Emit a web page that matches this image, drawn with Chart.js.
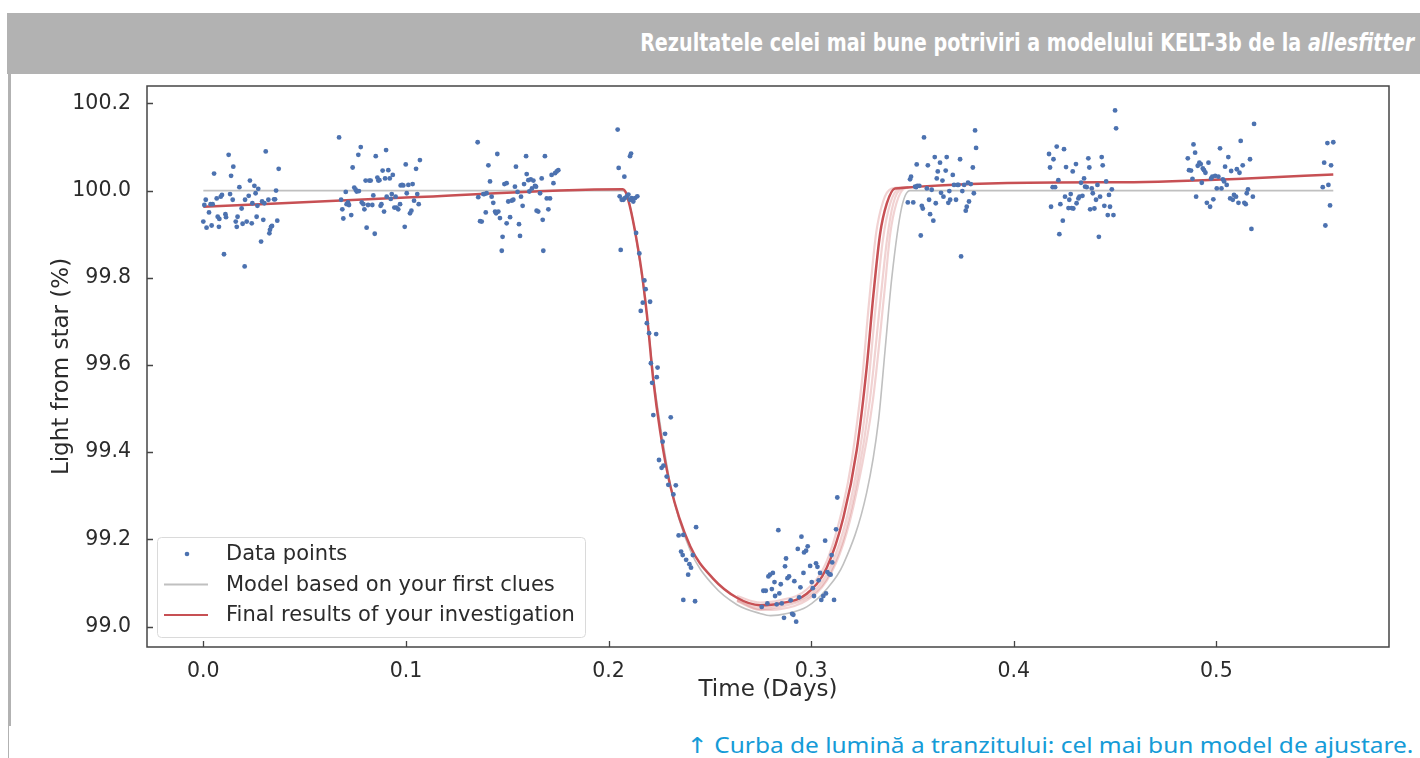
<!DOCTYPE html>
<html>
<head>
<meta charset="utf-8">
<script src="https://cdn.jsdelivr.net/npm/chart.js@4.4.0/dist/chart.umd.js"></script>
<style>
html, body { margin: 0; padding: 0; background: #fff; }
body { width: 1420px; height: 758px; position: relative; overflow: hidden; }
#header { position: absolute; left: 7px; top: 13px; width: 1413px; height: 61px; background: #b2b2b2; }
#headerText { position: absolute; right: 6px; top: 17px; font: bold 25px "Liberation Sans Narrow", "DejaVu Sans Condensed", sans-serif; line-height: 25px; color: #fff; white-space: nowrap; transform-origin: right center; }
#leftBar { position: absolute; left: 8px; top: 74px; width: 3px; height: 652px; background: #b2b2b2; }
#leftLine { position: absolute; left: 8px; top: 726px; width: 1px; height: 32px; background: #b2b2b2; }
#chartBox { position: absolute; left: 0; top: 75px; width: 1420px; height: 650px; }
#caption { position: absolute; right: 7px; top: 735px; font: 21px "Noto Sans", sans-serif; line-height: 21px; color: #159bd7; white-space: nowrap; transform-origin: right center; }
#caption .arrow { font-family: "DejaVu Sans", sans-serif; font-size: 22px; }
</style>
</head>
<body>
<div id="header"><span id="headerText">Rezultatele celei mai bune potriviri a modelului KELT-3b de la <i>allesfitter</i></span></div>
<div id="leftBar"></div>
<div id="leftLine"></div>
<div id="chartBox"><canvas id="lightCurve"></canvas></div>
<div id="caption"><span class="arrow">↑</span> Curba de lumină a tranzitului: cel mai bun model de ajustare.</div>

<script>
// Date (timp in zile, lumina in %)
const xTicks = [0.0, 0.1, 0.2, 0.3, 0.4, 0.5];
const yTicks = [99.0, 99.2, 99.4, 99.6, 99.8, 100.0, 100.2];

const obsTime = [
    // grup 1
    0.0000, 0.0005, 0.0012, 0.0016, 0.0028, 0.0036, 0.0041, 0.0046, 0.0053, 0.0066, 0.0071, 0.0077, 0.0079, 0.0086,
    0.0092, 0.0102, 0.0109, 0.0112, 0.0125, 0.0132, 0.0137, 0.0145, 0.0148, 0.0160, 0.0165, 0.0169, 0.0178, 0.0189,
    0.0194, 0.0204, 0.0206, 0.0214, 0.0224, 0.0230, 0.0239, 0.0242, 0.0252, 0.0258, 0.0263, 0.0267, 0.0271, 0.0285,
    0.0290, 0.0296, 0.0301, 0.0308, 0.0321, 0.0326, 0.0329, 0.0334, 0.0339, 0.0349, 0.0354, 0.0359, 0.0365, 0.0372,
    // grup 2
    0.0670, 0.0680, 0.0686, 0.0691, 0.0703, 0.0707, 0.0714, 0.0719, 0.0730, 0.0737, 0.0745, 0.0752, 0.0757, 0.0765,
    0.0768, 0.0777, 0.0782, 0.0790, 0.0795, 0.0801, 0.0806, 0.0813, 0.0819, 0.0826, 0.0834, 0.0839, 0.0846, 0.0851,
    0.0859, 0.0864, 0.0869, 0.0875, 0.0879, 0.0885, 0.0892, 0.0897, 0.0902, 0.0905, 0.0913, 0.0920, 0.0925, 0.0930,
    0.0935, 0.0943, 0.0949, 0.0954, 0.0962, 0.0971, 0.0974, 0.0981, 0.0987, 0.0994, 0.0999, 0.1004, 0.1012, 0.1020,
    0.1027, 0.1033, 0.1040, 0.1050, 0.1056, 0.1063, 0.1069,
    // grup 3
    0.1354, 0.1357, 0.1366, 0.1374, 0.1382, 0.1387, 0.1394, 0.1398, 0.1407, 0.1415, 0.1423, 0.1431, 0.1440, 0.1445,
    0.1451, 0.1456, 0.1464, 0.1473, 0.1477, 0.1486, 0.1497, 0.1497, 0.1505, 0.1514, 0.1522, 0.1530, 0.1538, 0.1543,
    0.1551, 0.1558, 0.1563, 0.1568, 0.1576, 0.1583, 0.1593, 0.1596, 0.1604, 0.1609, 0.1616, 0.1622, 0.1629, 0.1637,
    0.1642, 0.1645, 0.1653, 0.1662, 0.1670, 0.1675, 0.1678, 0.1686, 0.1695, 0.1703, 0.1711, 0.1719, 0.1728, 0.1736,
    0.1744, 0.1752,
    // tranzit
    0.2045, 0.2050, 0.2060, 0.2078, 0.2106, 0.2111, 0.2055, 0.2065, 0.2073, 0.2081, 0.2090, 0.2098, 0.2106, 0.2114,
    0.2122, 0.2131, 0.2142, 0.2136, 0.2152, 0.2177, 0.2183, 0.2169, 0.2205, 0.2159, 0.2189, 0.2200, 0.2235, 0.2209,
    0.2242, 0.2215, 0.2238, 0.2221, 0.2307, 0.2279, 0.2267, 0.2249, 0.2262, 0.2271, 0.2287, 0.2295, 0.2332, 0.2320,
    0.2346, 0.2369, 0.2432, 0.2358, 0.2366, 0.2383, 0.2399, 0.2407, 0.2416, 0.2393, 0.2369, 0.2427,
    0.2756, 0.2764, 0.2776, 0.2784, 0.2789, 0.2797, 0.2806, 0.2811, 0.2819, 0.2822, 0.2830, 0.2838, 0.2843, 0.2850,
    0.2855, 0.2866, 0.2871, 0.2876, 0.2883, 0.2891, 0.2899, 0.2906, 0.2912, 0.2917, 0.2926, 0.2934, 0.2941, 0.2947,
    0.2952, 0.2962, 0.2965, 0.2975, 0.2983, 0.2995, 0.3003, 0.3008, 0.3014, 0.3024, 0.3031, 0.3037, 0.3044, 0.3050,
    0.3060, 0.3069, 0.3073, 0.3080, 0.3090, 0.3096, 0.3101, 0.3104, 0.3113, 0.3123, 0.3129,
    // grup 4
    0.3477, 0.3488, 0.3493, 0.3504, 0.3513, 0.3521, 0.3524, 0.3534, 0.3541, 0.3546, 0.3551, 0.3557, 0.3571, 0.3576,
    0.3582, 0.3587, 0.3595, 0.3603, 0.3610, 0.3615, 0.3620, 0.3625, 0.3636, 0.3641, 0.3648, 0.3653, 0.3664, 0.3669,
    0.3677, 0.3682, 0.3686, 0.3699, 0.3705, 0.3715, 0.3722, 0.3727, 0.3735, 0.3740, 0.3746, 0.3755, 0.3763, 0.3768,
    0.3774, 0.3779, 0.3788, 0.3798, 0.3803, 0.3809, 0.3814, 0.3518,
    // grup 5
    0.4174, 0.4179, 0.4184, 0.4192, 0.4196, 0.4204, 0.4212, 0.4220, 0.4225, 0.4230, 0.4242, 0.4248, 0.4253, 0.4258,
    0.4270, 0.4274, 0.4281, 0.4286, 0.4291, 0.4294, 0.4307, 0.4310, 0.4319, 0.4324, 0.4332, 0.4339, 0.4347, 0.4352,
    0.4360, 0.4368, 0.4373, 0.4377, 0.4385, 0.4390, 0.4398, 0.4406, 0.4413, 0.4420, 0.4426, 0.4434, 0.4439, 0.4447,
    0.4456, 0.4464, 0.4470, 0.4475, 0.4484, 0.4492, 0.4500, 0.4505,
    // grup 6
    0.4859, 0.4865, 0.4875, 0.4882, 0.4887, 0.4895, 0.4900, 0.4908, 0.4916, 0.4923, 0.4928, 0.4933, 0.4939, 0.4946,
    0.4953, 0.4961, 0.4969, 0.4974, 0.4980, 0.4985, 0.4994, 0.5002, 0.5010, 0.5018, 0.5025, 0.5032, 0.5038, 0.5043,
    0.5051, 0.5059, 0.5068, 0.5073, 0.5081, 0.5087, 0.5097, 0.5101, 0.5109, 0.5114, 0.5120, 0.5130, 0.5138, 0.5145,
    0.5150, 0.5156, 0.5166, 0.5173, 0.5180, 0.5186,
    // grup 7
    0.5525, 0.5532, 0.5538, 0.5548, 0.5553, 0.5561, 0.5566, 0.5577
];

const obsFlux = [
    // grup 1
    99.929, 99.967, 99.979, 99.915, 99.950, 99.969, 99.920, 99.969, 100.039, 99.982, 99.940, 99.917, 99.935, 99.986,
    99.990, 99.854, 99.946, 99.939, 100.082, 99.992, 100.034, 99.979, 100.055, 99.929, 99.917, 99.940, 100.008, 99.959,
    99.924, 99.826, 99.979, 99.929, 99.988, 100.023, 99.925, 99.971, 100.011, 99.994, 99.940, 99.965, 100.004, 99.883,
    99.975, 99.933, 99.971, 100.090, 99.979, 99.902, 99.910, 99.917, 99.919, 99.980, 99.980, 100.000, 99.931, 100.050,
    // grup 2
    100.122, 99.979, 99.957, 99.936, 99.997, 99.969, 99.973, 99.967, 99.944, 100.053, 100.007, 100.002, 99.998, 100.082,
    99.999, 100.100, 99.973, 99.969, 99.957, 100.023, 99.915, 99.967, 100.023, 100.023, 99.967, 99.989, 99.901, 100.079,
    100.030, 100.023, 100.024, 99.965, 99.969, 100.046, 99.952, 100.028, 100.093, 99.986, 100.047, 100.028, 99.981, 99.992,
    100.036, 99.961, 99.986, 99.961, 99.957, 99.969, 100.012, 100.013, 100.012, 99.917, 100.060, 99.994, 100.013, 99.948,
    99.954, 100.015, 99.977, 100.050, 99.992, 99.969, 100.070,
    // grup 3
    100.111, 99.985, 99.930, 99.929, 99.992, 99.992, 99.950, 99.994, 100.058, 100.021, 99.986, 99.972, 99.952, 99.948,
    100.084, 99.952, 99.937, 99.862, 99.894, 100.015, 100.017, 99.925, 99.975, 99.939, 99.977, 99.979, 100.009, 100.055,
    99.997, 99.923, 99.896, 99.986, 99.965, 100.015, 100.079, 100.038, 100.024, 99.998, 100.026, 100.005, 100.023, 100.011,
    100.009, 99.954, 99.952, 99.994, 100.028, 99.933, 99.862, 100.079, 99.982, 99.957, 99.982, 100.036, 100.017, 100.040,
    100.044, 100.047,
    // tranzit
    100.140, 100.052, 99.864, 100.032, 100.079, 100.085, 99.987, 99.979, 99.979, 99.983, 99.987, 99.991, 99.979, 99.983,
    99.975, 99.983, 99.987, 99.903, 99.856, 99.794, 99.774, 99.743, 99.745, 99.724, 99.696, 99.673, 99.671, 99.604,
    99.594, 99.559, 99.572, 99.485, 99.480, 99.442, 99.424, 99.382, 99.364, 99.369, 99.344, 99.325, 99.324, 99.303,
    99.209, 99.210, 99.228, 99.172, 99.164, 99.153, 99.143, 99.135, 99.164, 99.119, 99.061, 99.058,
    99.045, 99.082, 99.082, 99.053, 99.115, 99.119, 99.086, 99.123, 99.102, 99.070, 99.051, 99.221, 99.076, 99.097,
    99.053, 99.020, 99.138, 99.156, 99.111, 99.115, 99.060, 99.029, 99.027, 99.104, 99.011, 99.178, 99.067, 99.090,
    99.206, 99.123, 99.170, 99.174, 99.184, 99.139, 99.102, 99.088, 99.070, 99.145, 99.137, 99.106, 99.123, 99.061,
    99.070, 99.197, 99.076, 99.125, 99.120, 99.119, 99.164, 99.147, 99.061, 99.223, 99.296,
    // grup 4
    99.973, 100.026, 100.032, 99.973, 100.009, 100.060, 100.011, 100.011, 99.897, 99.965, 99.959, 100.122, 100.005, 100.058,
    99.979, 99.946, 100.002, 99.931, 100.077, 99.971, 100.028, 100.044, 100.064, 99.995, 100.023, 99.986, 100.046, 100.077,
    99.972, 99.999, 99.979, 100.036, 100.013, 99.979, 100.013, 100.013, 100.072, 99.849, 99.999, 100.013, 99.954, 99.963,
    100.018, 99.975, 100.015, 100.053, 99.994, 100.138, 100.098, 100.008,
    // grup 5
    100.084, 100.053, 99.963, 100.008, 100.072, 100.008, 100.101, 100.024, 99.900, 99.969, 99.931, 100.095, 99.986, 100.054,
    99.960, 99.979, 99.992, 99.960, 100.044, 99.959, 100.061, 99.971, 99.982, 99.986, 100.018, 99.988, 100.028, 100.009,
    100.008, 100.074, 100.053, 99.957, 100.005, 99.994, 99.959, 99.979, 100.013, 99.894, 99.986, 100.077, 100.058, 99.965,
    100.021, 99.944, 99.990, 99.963, 100.003, 99.944, 100.184, 100.143,
    // grup 6
    100.074, 100.047, 100.046, 100.027, 100.106, 100.087, 99.986, 100.057, 100.064, 100.061, 100.018, 100.051, 100.047, 100.041,
    99.972, 100.064, 99.963, 100.028, 100.032, 99.980, 100.034, 100.005, 100.032, 100.097, 100.005, 100.026, 100.021, 100.055,
    100.013, 100.077, 99.982, 100.045, 99.979, 99.990, 99.986, 100.049, 99.972, 100.041, 100.114, 100.058, 99.972, 99.969,
    99.994, 100.003, 100.072, 99.912, 99.986, 100.153,
    // grup 7
    100.008, 100.064, 99.920, 100.109, 100.013, 99.966, 100.058, 100.111
];

// modelul initial (gri)
const firstModelTime = [0.000, 0.2065, 0.2095, 0.2155, 0.2190, 0.2225, 0.2265, 0.2310, 0.2403, 0.2516, 0.2634, 0.2748,
    0.2800, 0.2880, 0.2978, 0.3077, 0.3159, 0.3274, 0.3332, 0.3365, 0.3398, 0.3447, 0.3488, 0.5577];
const firstModelFlux = [100.0, 100.0, 99.985, 99.835, 99.71, 99.56, 99.435, 99.315, 99.175, 99.095, 99.05, 99.03,
    99.025, 99.03, 99.045, 99.086, 99.143, 99.307, 99.471, 99.635, 99.80, 99.962, 100.0, 100.0];

// modelul final (rosu)
const finalModelTime = [0.000, 0.100, 0.2070, 0.2090, 0.2155, 0.2189, 0.2220, 0.2255, 0.2304, 0.2403, 0.2516, 0.2634,
    0.2748, 0.2846, 0.2978, 0.3077, 0.3159, 0.3225, 0.3274, 0.3307, 0.3340, 0.3373, 0.3414, 0.4492, 0.5150, 0.5577];
const finalModelFlux = [99.963, 99.984, 100.003, 99.99, 99.84, 99.717, 99.569, 99.447, 99.324, 99.184, 99.11, 99.066,
    99.049, 99.053, 99.075, 99.135, 99.25, 99.405, 99.594, 99.76, 99.90, 99.97, 100.005, 100.019, 100.028, 100.037];

// cateva esantioane posterioare (banda roz)
const sampleTime = [
    [0.2634, 0.2748, 0.2846, 0.2978, 0.3077, 0.3159, 0.3200, 0.3250, 0.3285, 0.3320, 0.3355, 0.3395, 0.3480],
    [0.2634, 0.2748, 0.2846, 0.2978, 0.3077, 0.3159, 0.3225, 0.3274, 0.3320, 0.3355, 0.3390, 0.3430, 0.3480],
    [0.2634, 0.2748, 0.2846, 0.2978, 0.3077, 0.3159, 0.3225, 0.3290, 0.3340, 0.3375, 0.3405, 0.3445, 0.3500],
    [0.2634, 0.2748, 0.2846, 0.2978, 0.3077, 0.3159, 0.3225, 0.3305, 0.3360, 0.3390, 0.3420, 0.3460, 0.3520]
];
const sampleFlux = [
    [99.07, 99.055, 99.06, 99.085, 99.15, 99.28, 99.38, 99.56, 99.74, 99.90, 99.975, 100.004, 100.008],
    [99.062, 99.045, 99.05, 99.07, 99.12, 99.22, 99.36, 99.52, 99.74, 99.89, 99.97, 100.004, 100.008],
    [99.06, 99.04, 99.045, 99.065, 99.11, 99.20, 99.33, 99.52, 99.74, 99.89, 99.97, 100.004, 100.008],
    [99.058, 99.038, 99.04, 99.06, 99.105, 99.19, 99.31, 99.52, 99.76, 99.90, 99.97, 100.005, 100.009]
];

const BLUE = '#4c72b0';
const RED = 'rgb(199, 80, 84)';
const GREY = 'rgb(192, 192, 192)';
const TEXT = '#2b2b2b';
const FONT = '"DejaVu Sans", sans-serif';

const toPoints = (xs, ys) => xs.map((t, i) => ({ x: t, y: ys[i] }));

// ticks spre interior, cadru complet si legenda in coltul stanga-jos
const decorPlugin = {
    id: 'decor',
    afterDatasetsDraw(chart) {
        const { ctx, chartArea: a, scales: { x, y } } = chart;
        ctx.save();
        ctx.strokeStyle = '#454545';
        ctx.lineWidth = 1.3;
        ctx.beginPath();
        yTicks.forEach(v => {
            const py = Math.round(y.getPixelForValue(v)) + 0.5;
            ctx.moveTo(a.left, py);
            ctx.lineTo(a.left + 6, py);
        });
        xTicks.forEach(v => {
            const px = Math.round(x.getPixelForValue(v)) + 0.5;
            ctx.moveTo(px, a.bottom);
            ctx.lineTo(px, a.bottom - 6);
        });
        ctx.stroke();
        ctx.lineWidth = 1.5;
        ctx.strokeRect(a.left, a.top, a.right - a.left, a.bottom - a.top);
        ctx.restore();
    },
    afterDraw(chart) {
        const { ctx, chartArea: a } = chart;
        const ds = chart.data.datasets;
        const bx = a.left + 10, by = a.bottom - 110, bw = 428, bh = 100;
        ctx.save();
        ctx.beginPath();
        ctx.roundRect(bx + 0.5, by + 0.5, bw, bh, 4);
        ctx.fillStyle = 'rgba(255,255,255,0.85)';
        ctx.fill();
        ctx.strokeStyle = '#dadada';
        ctx.lineWidth = 1;
        ctx.stroke();

        ctx.font = '21px ' + FONT;
        ctx.fillStyle = TEXT;
        ctx.textBaseline = 'middle';
        const rows = [ds[0], ds[2], ds[1]];
        rows.forEach((d, i) => {
            const cy = by + 17 + i * 30.5;
            if (d.showLine) {
                ctx.strokeStyle = d.borderColor;
                ctx.lineWidth = 2;
                ctx.beginPath();
                ctx.moveTo(bx + 7, cy);
                ctx.lineTo(bx + 51, cy);
                ctx.stroke();
            } else {
                ctx.fillStyle = d.backgroundColor;
                ctx.beginPath();
                ctx.arc(bx + 30, cy, 2.3, 0, Math.PI * 2);
                ctx.fill();
                ctx.fillStyle = TEXT;
            }
            ctx.fillText(d.label, bx + 69, cy + 1);
        });
        ctx.restore();
    }
};

const datasets = [
    {
        label: 'Data points',
        data: toPoints(obsTime, obsFlux),
        backgroundColor: BLUE,
        borderWidth: 0,
        pointRadius: 2.4,
        showLine: false,
        order: 0
    },
    {
        label: 'Final results of your investigation',
        data: toPoints(finalModelTime, finalModelFlux),
        borderColor: RED,
        borderWidth: 2.5,
        pointRadius: 0,
        showLine: true,
        cubicInterpolationMode: 'monotone',
        order: 1
    },
    {
        label: 'Model based on your first clues',
        data: toPoints(firstModelTime, firstModelFlux),
        borderColor: GREY,
        borderWidth: 1.6,
        pointRadius: 0,
        showLine: true,
        cubicInterpolationMode: 'monotone',
        order: 3
    }
];

sampleTime.forEach((ts, k) => {
    datasets.push({
        label: 'sample ' + (k + 1),
        data: toPoints(ts, sampleFlux[k]),
        borderColor: 'rgba(205, 92, 92, 0.28)',
        borderWidth: 2.2,
        pointRadius: 0,
        showLine: true,
        cubicInterpolationMode: 'monotone',
        order: 2
    });
});

new Chart(document.getElementById('lightCurve'), {
    type: 'scatter',
    data: { datasets: datasets },
    plugins: [decorPlugin],
    options: {
        responsive: true,
        maintainAspectRatio: false,
        animation: false,
        layout: { padding: { top: 11, right: 31, left: 0, bottom: 0 } },
        plugins: {
            legend: { display: false },
            tooltip: { enabled: false }
        },
        scales: {
            x: {
                type: 'linear',
                min: -0.0278,
                max: 0.5852,
                grid: { display: false },
                border: { display: false },
                afterFit: scale => {
                    scale.height = 78;
                    scale.paddingLeft = 0;
                    scale.paddingRight = 0;
                },
                afterBuildTicks: scale => { scale.ticks = xTicks.map(v => ({ value: v })); },
                ticks: {
                    autoSkip: false,
                    padding: 4,
                    color: TEXT,
                    font: { family: FONT, size: 20.5 },
                    callback: v => Number(v).toFixed(1)
                },
                title: {
                    display: true,
                    text: 'Time (Days)',
                    color: TEXT,
                    font: { family: FONT, size: 23 },
                    padding: { top: 0, bottom: 21 }
                }
            },
            y: {
                type: 'linear',
                min: 98.953,
                max: 100.240,
                grid: { display: false },
                border: { display: false },
                afterFit: scale => {
                    scale.width = 147;
                    scale.paddingTop = 0;
                    scale.paddingBottom = 0;
                },
                afterBuildTicks: scale => { scale.ticks = yTicks.map(v => ({ value: v })); },
                ticks: {
                    autoSkip: false,
                    padding: 8,
                    color: TEXT,
                    font: { family: FONT, size: 20.5 },
                    callback: v => Number(v).toFixed(1)
                },
                title: {
                    display: true,
                    text: 'Light from star (%)',
                    color: TEXT,
                    font: { family: FONT, size: 23 },
                    padding: { top: 48, bottom: 0 }
                }
            }
        }
    }
});

// ajusteaza latimea textelor HTML la cea din imagine
function fitWidth(id, w) {
    const el = document.getElementById(id);
    const r = el.getBoundingClientRect().width;
    if (r > 0) el.style.transform = 'scaleX(' + (w / r) + ')';
}
fitWidth('headerText', 774);
fitWidth('caption', 727);
</script>
</body>
</html>
